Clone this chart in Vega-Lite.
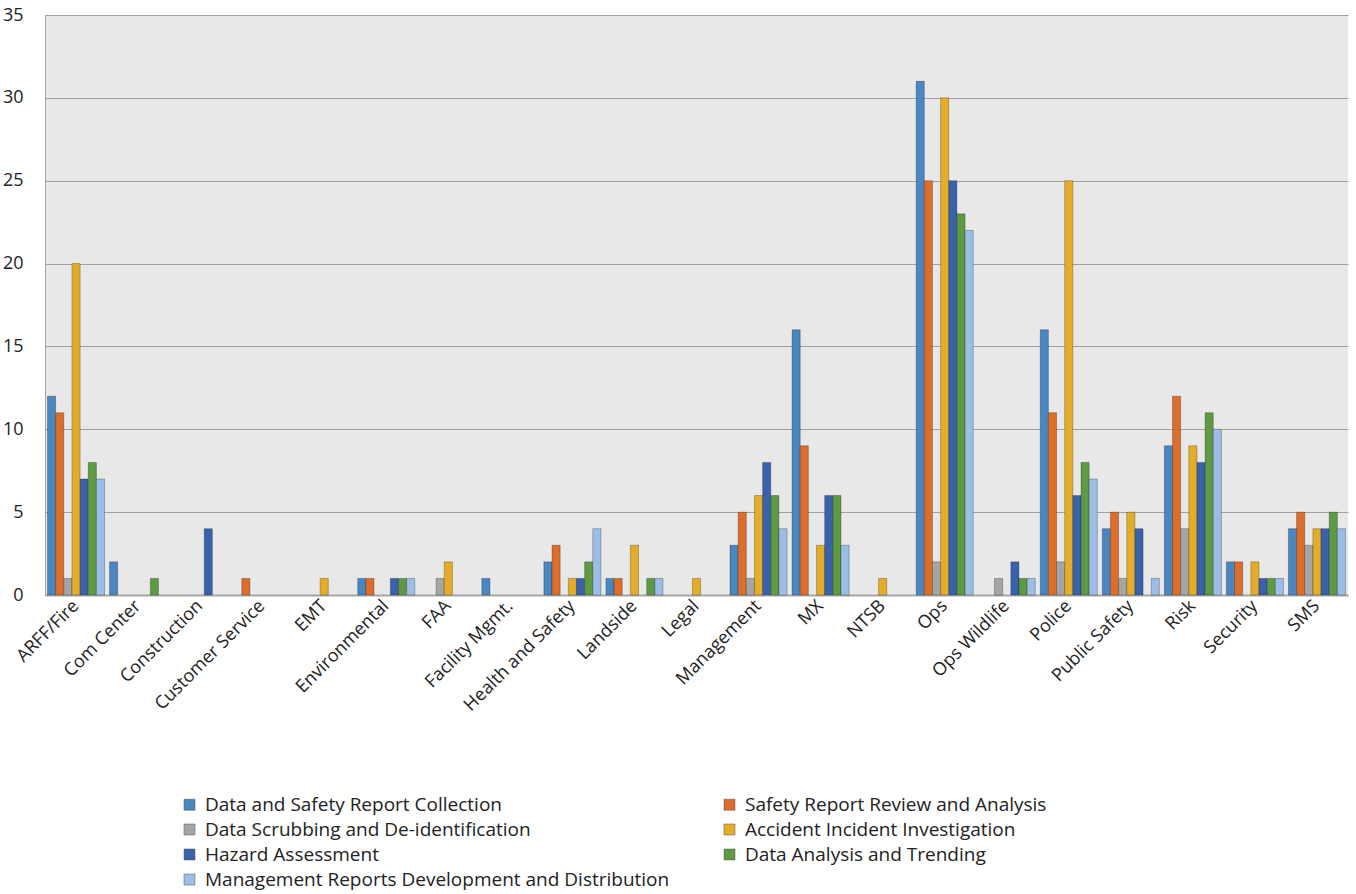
{
  "$schema": "https://vega.github.io/schema/vega-lite/v6.json",
  "width": 1303,
  "height": 580,
  "autosize": {"type": "none"},
  "padding": {"left": 45, "top": 15, "right": 8, "bottom": 299},
  "background": "white",
  "config": {
    "view": {"fill": "#E8E8E8", "stroke": null},
    "font": "Open Sans"
  },
  "data": {
    "values": [
      {"d": "ARFF/Fire", "s": "Data and Safety Report Collection", "v": 12},
      {"d": "ARFF/Fire", "s": "Safety Report Review and Analysis", "v": 11},
      {"d": "ARFF/Fire", "s": "Data Scrubbing and De-identification", "v": 1},
      {"d": "ARFF/Fire", "s": "Accident Incident Investigation", "v": 20},
      {"d": "ARFF/Fire", "s": "Hazard Assessment", "v": 7},
      {"d": "ARFF/Fire", "s": "Data Analysis and Trending", "v": 8},
      {"d": "ARFF/Fire", "s": "Management Reports Development and Distribution", "v": 7},
      {"d": "Com Center", "s": "Data and Safety Report Collection", "v": 2},
      {"d": "Com Center", "s": "Data Analysis and Trending", "v": 1},
      {"d": "Construction", "s": "Hazard Assessment", "v": 4},
      {"d": "Customer Service", "s": "Safety Report Review and Analysis", "v": 1},
      {"d": "EMT", "s": "Accident Incident Investigation", "v": 1},
      {"d": "Environmental", "s": "Data and Safety Report Collection", "v": 1},
      {"d": "Environmental", "s": "Safety Report Review and Analysis", "v": 1},
      {"d": "Environmental", "s": "Hazard Assessment", "v": 1},
      {"d": "Environmental", "s": "Data Analysis and Trending", "v": 1},
      {"d": "Environmental", "s": "Management Reports Development and Distribution", "v": 1},
      {"d": "FAA", "s": "Data Scrubbing and De-identification", "v": 1},
      {"d": "FAA", "s": "Accident Incident Investigation", "v": 2},
      {"d": "Facility Mgmt.", "s": "Data and Safety Report Collection", "v": 1},
      {"d": "Health and Safety", "s": "Data and Safety Report Collection", "v": 2},
      {"d": "Health and Safety", "s": "Safety Report Review and Analysis", "v": 3},
      {"d": "Health and Safety", "s": "Accident Incident Investigation", "v": 1},
      {"d": "Health and Safety", "s": "Hazard Assessment", "v": 1},
      {"d": "Health and Safety", "s": "Data Analysis and Trending", "v": 2},
      {"d": "Health and Safety", "s": "Management Reports Development and Distribution", "v": 4},
      {"d": "Landside", "s": "Data and Safety Report Collection", "v": 1},
      {"d": "Landside", "s": "Safety Report Review and Analysis", "v": 1},
      {"d": "Landside", "s": "Accident Incident Investigation", "v": 3},
      {"d": "Landside", "s": "Data Analysis and Trending", "v": 1},
      {"d": "Landside", "s": "Management Reports Development and Distribution", "v": 1},
      {"d": "Legal", "s": "Accident Incident Investigation", "v": 1},
      {"d": "Management", "s": "Data and Safety Report Collection", "v": 3},
      {"d": "Management", "s": "Safety Report Review and Analysis", "v": 5},
      {"d": "Management", "s": "Data Scrubbing and De-identification", "v": 1},
      {"d": "Management", "s": "Accident Incident Investigation", "v": 6},
      {"d": "Management", "s": "Hazard Assessment", "v": 8},
      {"d": "Management", "s": "Data Analysis and Trending", "v": 6},
      {"d": "Management", "s": "Management Reports Development and Distribution", "v": 4},
      {"d": "MX", "s": "Data and Safety Report Collection", "v": 16},
      {"d": "MX", "s": "Safety Report Review and Analysis", "v": 9},
      {"d": "MX", "s": "Accident Incident Investigation", "v": 3},
      {"d": "MX", "s": "Hazard Assessment", "v": 6},
      {"d": "MX", "s": "Data Analysis and Trending", "v": 6},
      {"d": "MX", "s": "Management Reports Development and Distribution", "v": 3},
      {"d": "NTSB", "s": "Accident Incident Investigation", "v": 1},
      {"d": "Ops", "s": "Data and Safety Report Collection", "v": 31},
      {"d": "Ops", "s": "Safety Report Review and Analysis", "v": 25},
      {"d": "Ops", "s": "Data Scrubbing and De-identification", "v": 2},
      {"d": "Ops", "s": "Accident Incident Investigation", "v": 30},
      {"d": "Ops", "s": "Hazard Assessment", "v": 25},
      {"d": "Ops", "s": "Data Analysis and Trending", "v": 23},
      {"d": "Ops", "s": "Management Reports Development and Distribution", "v": 22},
      {"d": "Ops Wildlife", "s": "Data Scrubbing and De-identification", "v": 1},
      {"d": "Ops Wildlife", "s": "Hazard Assessment", "v": 2},
      {"d": "Ops Wildlife", "s": "Data Analysis and Trending", "v": 1},
      {"d": "Ops Wildlife", "s": "Management Reports Development and Distribution", "v": 1},
      {"d": "Police", "s": "Data and Safety Report Collection", "v": 16},
      {"d": "Police", "s": "Safety Report Review and Analysis", "v": 11},
      {"d": "Police", "s": "Data Scrubbing and De-identification", "v": 2},
      {"d": "Police", "s": "Accident Incident Investigation", "v": 25},
      {"d": "Police", "s": "Hazard Assessment", "v": 6},
      {"d": "Police", "s": "Data Analysis and Trending", "v": 8},
      {"d": "Police", "s": "Management Reports Development and Distribution", "v": 7},
      {"d": "Public Safety", "s": "Data and Safety Report Collection", "v": 4},
      {"d": "Public Safety", "s": "Safety Report Review and Analysis", "v": 5},
      {"d": "Public Safety", "s": "Data Scrubbing and De-identification", "v": 1},
      {"d": "Public Safety", "s": "Accident Incident Investigation", "v": 5},
      {"d": "Public Safety", "s": "Hazard Assessment", "v": 4},
      {"d": "Public Safety", "s": "Management Reports Development and Distribution", "v": 1},
      {"d": "Risk", "s": "Data and Safety Report Collection", "v": 9},
      {"d": "Risk", "s": "Safety Report Review and Analysis", "v": 12},
      {"d": "Risk", "s": "Data Scrubbing and De-identification", "v": 4},
      {"d": "Risk", "s": "Accident Incident Investigation", "v": 9},
      {"d": "Risk", "s": "Hazard Assessment", "v": 8},
      {"d": "Risk", "s": "Data Analysis and Trending", "v": 11},
      {"d": "Risk", "s": "Management Reports Development and Distribution", "v": 10},
      {"d": "Security", "s": "Data and Safety Report Collection", "v": 2},
      {"d": "Security", "s": "Safety Report Review and Analysis", "v": 2},
      {"d": "Security", "s": "Accident Incident Investigation", "v": 2},
      {"d": "Security", "s": "Hazard Assessment", "v": 1},
      {"d": "Security", "s": "Data Analysis and Trending", "v": 1},
      {"d": "Security", "s": "Management Reports Development and Distribution", "v": 1},
      {"d": "SMS", "s": "Data and Safety Report Collection", "v": 4},
      {"d": "SMS", "s": "Safety Report Review and Analysis", "v": 5},
      {"d": "SMS", "s": "Data Scrubbing and De-identification", "v": 3},
      {"d": "SMS", "s": "Accident Incident Investigation", "v": 4},
      {"d": "SMS", "s": "Hazard Assessment", "v": 4},
      {"d": "SMS", "s": "Data Analysis and Trending", "v": 5},
      {"d": "SMS", "s": "Management Reports Development and Distribution", "v": 4}
    ]
  },
  "mark": {"type": "bar", "stroke": "#000000", "strokeOpacity": 0.25, "strokeWidth": 1},
  "encoding": {
    "x": {
      "field": "d",
      "type": "nominal",
      "sort": null,
      "scale": {
        "domain": ["ARFF/Fire", "Com Center", "Construction", "Customer Service", "EMT", "Environmental", "FAA", "Facility Mgmt.", "Health and Safety", "Landside", "Legal", "Management", "MX", "NTSB", "Ops", "Ops Wildlife", "Police", "Public Safety", "Risk", "Security", "SMS"],
        "paddingInner": 0.08,
        "paddingOuter": 0.04
      },
      "axis": {
        "title": null,
        "labelAngle": -45,
        "labelAlign": "right",
        "labelBaseline": "middle",
        "labelFontSize": 18,
        "labelColor": "#222222",
        "labelPadding": 8,
        "ticks": false,
        "domainColor": "#A6A6A6",
        "domainWidth": 2,
        "labelLimit": 300
      }
    },
    "xOffset": {
      "field": "s",
      "type": "nominal",
      "scale": {
        "domain": ["Data and Safety Report Collection", "Safety Report Review and Analysis", "Data Scrubbing and De-identification", "Accident Incident Investigation", "Hazard Assessment", "Data Analysis and Trending", "Management Reports Development and Distribution"],
        "paddingInner": 0,
        "paddingOuter": 0
      }
    },
    "y": {
      "field": "v",
      "type": "quantitative",
      "scale": {"domain": [0, 35], "nice": false},
      "axis": {
        "title": null,
        "values": [0, 5, 10, 15, 20, 25, 30, 35],
        "labelFontSize": 18,
        "labelColor": "#222222",
        "labelPadding": 22,
        "ticks": false,
        "domainColor": "#A6A6A6",
        "domainWidth": 1,
        "gridColor": "#A0A0A0",
        "gridWidth": 1
      }
    },
    "color": {
      "field": "s",
      "type": "nominal",
      "scale": {
        "domain": ["Data and Safety Report Collection", "Safety Report Review and Analysis", "Data Scrubbing and De-identification", "Accident Incident Investigation", "Hazard Assessment", "Data Analysis and Trending", "Management Reports Development and Distribution"],
        "range": ["#4A86C0", "#DD6D2A", "#A5A5A5", "#E4AD29", "#3A62AB", "#5E9A44", "#9CBDE5"]
      },
      "legend": {
        "title": null,
        "orient": "none",
        "direction": "horizontal",
        "legendX": 135,
        "legendY": 780,
        "columns": 2,
        "columnPadding": 50,
        "rowPadding": 5,
        "symbolType": "square",
        "symbolSize": 121,
        "symbolStrokeColor": "#555555",
        "symbolStrokeWidth": 0.5,
        "labelFontSize": 19,
        "labelColor": "#222222",
        "labelLimit": 600,
        "labelOffset": 6
      }
    }
  }
}
